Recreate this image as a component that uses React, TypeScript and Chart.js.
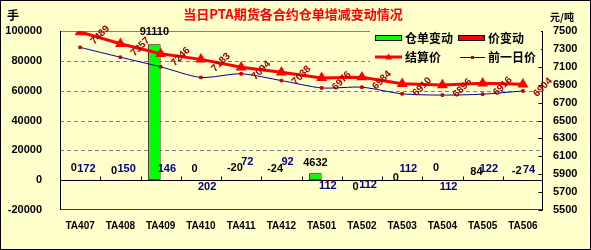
import React, { useEffect, useRef } from 'react';
import { Chart, registerables } from 'chart.js';

Chart.register(...registerables);

// ---- data ----
const categories = ['TA407', 'TA408', 'TA409', 'TA410', 'TA411', 'TA412', 'TA501', 'TA502', 'TA503', 'TA504', 'TA505', 'TA506'];
const stockChange = [0, 0, 91110, 0, -20, -24, 4632, 0, 0, 0, 84, -2];
const priceChange = [172, 150, 146, 202, 72, 92, 112, 112, 112, 112, 122, 74];
const settlePrice = [7489, 7357, 7246, 7183, 7094, 7038, 6976, 6984, 6910, 6896, 6916, 6904];
const prevPrice = [7317, 7207, 7100, 6981, 7022, 6946, 6864, 6872, 6798, 6784, 6794, 6830];
const leftTicks = [-20000, 0, 20000, 40000, 60000, 80000, 100000];
const rightMin = 5500;
const rightMax = 7500;
const rightStep = 200;

// ---- label layout (pixel offsets, not data) ----
const stockLabelDy = [-12, -9, -12, -11, -12, -11, -10, 7, -2, -12, -8, -9];
const priceLabelDy = [-11, -11, -11, 7, -18, -18, 6, 5, -11, 7, -11, -10];

const BG = '#FFFFCC';
const F = '"Liberation Sans", Arial, sans-serif';
const CJK = '"Noto Sans CJK SC", "Noto Sans", sans-serif';

const decorPlugin = {
  id: 'decor',
  beforeDraw(chart: any) {
    const { ctx, width, height } = chart;
    ctx.save();
    ctx.fillStyle = BG;
    ctx.fillRect(0, 0, width, height);
    ctx.restore();
  },
  beforeDatasetsDraw(chart: any) {
    const { ctx, chartArea: a, scales } = chart;
    const y = scales.y;
    const y1 = scales.y1;
    ctx.save();
    ctx.lineWidth = 1;
    leftTicks.forEach((v) => {
      if (v === 0 || v === -20000) return;
      const py = Math.round(y.getPixelForValue(v)) + 0.5;
      ctx.strokeStyle = '#808080';
      ctx.setLineDash(v === 100000 ? [] : [4, 3]);
      ctx.beginPath();
      ctx.moveTo(a.left, py);
      ctx.lineTo(a.right, py);
      ctx.stroke();
    });
    ctx.setLineDash([]);
    const by = Math.round(a.bottom) - 0.5;
    ctx.strokeStyle = '#404040';
    ctx.beginPath();
    ctx.moveTo(a.left, by);
    ctx.lineTo(a.right, by);
    ctx.stroke();
    ctx.strokeStyle = '#000000';
    const lx = Math.round(a.left) + 0.5;
    const rx = Math.round(a.right) - 0.5;
    ctx.beginPath();
    ctx.moveTo(lx, a.top);
    ctx.lineTo(lx, a.bottom);
    ctx.moveTo(rx, a.top);
    ctx.lineTo(rx, a.bottom);
    ctx.stroke();
    for (let v = rightMin; v <= rightMax; v += rightStep) {
      const py = Math.round(y1.getPixelForValue(v)) + 0.5;
      ctx.beginPath();
      ctx.moveTo(rx - 4, py);
      ctx.lineTo(rx, py);
      ctx.stroke();
    }
    const zy = Math.round(y.getPixelForValue(0)) + 0.5;
    ctx.beginPath();
    ctx.moveTo(a.left, zy);
    ctx.lineTo(a.right, zy);
    const n = categories.length;
    for (let i = 1; i < n; i++) {
      const px = Math.round(a.left + (i * (a.right - a.left)) / n) + 0.5;
      ctx.moveTo(px, zy);
      ctx.lineTo(px, zy - 4);
    }
    ctx.stroke();
    ctx.restore();
  },
  afterDatasetsDraw(chart: any) {
    const { ctx } = chart;
    ctx.save();
    ctx.textAlign = 'center';
    ctx.textBaseline = 'middle';
    const m0 = chart.getDatasetMeta(0);
    ctx.font = `bold 11px ${F}`;
    ctx.fillStyle = '#000000';
    m0.data.forEach((el: any, i: number) => {
      const v = stockChange[i];
      const top = v >= 0 ? el.y : el.base;
      ctx.fillText(String(v), el.x, top + stockLabelDy[i]);
    });
    const m1 = chart.getDatasetMeta(1);
    ctx.fillStyle = '#000080';
    m1.data.forEach((el: any, i: number) => {
      ctx.fillText(String(priceChange[i]), el.x, el.base + priceLabelDy[i]);
    });
    const m2 = chart.getDatasetMeta(2);
    ctx.font = `bold 10px ${F}`;
    ctx.fillStyle = '#A00000';
    m2.data.forEach((el: any, i: number) => {
      ctx.save();
      ctx.translate(el.x + 20, el.y + 3);
      ctx.rotate(-Math.PI / 4);
      ctx.fillText(String(settlePrice[i]), 0, 0);
      ctx.restore();
    });
    ctx.restore();
  },
  afterDraw(chart: any) {
    const { ctx, width, height } = chart;
    ctx.save();
    ctx.fillStyle = BG;
    ctx.fillRect(370, 29, 171, 37);
    ctx.textBaseline = 'middle';
    ctx.textAlign = 'left';
    ctx.font = `bold 12px ${CJK}`;
    ctx.fillStyle = '#00FF00';
    ctx.fillRect(375, 35, 27, 5);
    ctx.strokeStyle = '#000000';
    ctx.lineWidth = 1;
    ctx.strokeRect(375.5, 35.5, 26, 5);
    ctx.fillStyle = '#000000';
    ctx.fillText('仓单变动', 405, 38);
    ctx.fillStyle = '#FF0000';
    ctx.fillRect(458, 35, 27, 5);
    ctx.strokeRect(458.5, 35.5, 26, 5);
    ctx.fillStyle = '#000000';
    ctx.fillText('价变动', 488, 38);
    ctx.strokeStyle = '#FF0000';
    ctx.lineWidth = 3;
    ctx.beginPath();
    ctx.moveTo(375, 57);
    ctx.lineTo(402, 57);
    ctx.stroke();
    ctx.fillStyle = '#FF0000';
    ctx.beginPath();
    ctx.moveTo(388.5, 53.5);
    ctx.lineTo(392, 59.5);
    ctx.lineTo(385, 59.5);
    ctx.closePath();
    ctx.fill();
    ctx.fillStyle = '#000000';
    ctx.fillText('结算价', 405, 57);
    ctx.strokeStyle = '#000099';
    ctx.lineWidth = 1;
    ctx.beginPath();
    ctx.moveTo(460, 57.5);
    ctx.lineTo(485, 57.5);
    ctx.stroke();
    ctx.fillStyle = '#CC0000';
    ctx.fillRect(471, 56, 3, 3);
    ctx.fillStyle = '#000000';
    ctx.fillText('前一日价', 488, 57);
    ctx.textAlign = 'center';
    ctx.fillStyle = '#FF0000';
    ctx.font = `bold 13px ${CJK}`;
    ctx.fillText('当日PTA期货各合约仓单增减变动情况', 293, 14);
    ctx.fillStyle = '#000000';
    ctx.font = `bold 12px ${CJK}`;
    ctx.fillText('手', 13, 15);
    ctx.font = `bold 10px ${CJK}`;
    ctx.fillText('元/吨', 562, 17);
    ctx.strokeStyle = '#000000';
    ctx.lineWidth = 1;
    ctx.strokeRect(0.5, 0.5, width - 1, height - 1);
    ctx.restore();
  },
};

export default function App() {
  const ref = useRef<HTMLCanvasElement>(null);
  useEffect(() => {
    const tickFont = { family: F, size: 11, weight: 'bold' as const };
    const chart = new Chart(ref.current as HTMLCanvasElement, {
      type: 'bar',
      data: {
        labels: categories,
        datasets: [
          {
            type: 'bar',
            label: '仓单变动',
            data: stockChange,
            yAxisID: 'y',
            backgroundColor: '#00FF00',
            borderColor: '#000000',
            borderWidth: 1,
            borderSkipped: false,
            categoryPercentage: 0.62,
            barPercentage: 1,
            order: 2,
          },
          {
            type: 'bar',
            label: '价变动',
            data: priceChange,
            yAxisID: 'y',
            backgroundColor: '#FF0000',
            borderWidth: 0,
            categoryPercentage: 0.62,
            barPercentage: 1,
            order: 2,
          },
          {
            type: 'line',
            label: '结算价',
            data: settlePrice,
            yAxisID: 'y1',
            borderColor: '#FF0000',
            borderWidth: 3,
            pointStyle: 'triangle',
            pointRadius: 3.3,
            pointBackgroundColor: '#FF0000',
            pointBorderColor: '#FF0000',
            tension: 0,
            order: 0,
          },
          {
            type: 'line',
            label: '前一日价',
            data: prevPrice,
            yAxisID: 'y1',
            borderColor: '#000099',
            borderWidth: 1,
            pointStyle: 'rect',
            pointRadius: 1.8,
            pointBackgroundColor: '#CC0000',
            pointBorderColor: '#CC0000',
            tension: 0.25,
            order: 1,
          },
        ] as any,
      },
      options: {
        responsive: false,
        animation: false,
        devicePixelRatio: 1,
        layout: { padding: { top: 31, left: 0, right: 0, bottom: 0 } },
        plugins: {
          legend: { display: false },
          title: { display: false },
          tooltip: { enabled: false },
        },
        scales: {
          x: {
            grid: { display: false, drawTicks: false },
            border: { display: false },
            ticks: { font: { family: F, size: 10, weight: 'bold' }, color: '#000000', padding: 10, autoSkip: false, maxRotation: 0 },
            afterFit: (s: any) => {
              s.height = 40;
            },
          },
          y: {
            position: 'left',
            min: leftTicks[0],
            max: leftTicks[leftTicks.length - 1],
            grid: { display: false, drawTicks: false },
            border: { display: false },
            ticks: { stepSize: 20000, font: tickFont, color: '#000000', padding: 18, callback: (v: any) => String(v) },
            afterFit: (s: any) => {
              s.width = 60;
            },
          },
          y1: {
            position: 'right',
            min: rightMin,
            max: rightMax,
            grid: { display: false, drawTicks: false },
            border: { display: false },
            ticks: { stepSize: rightStep, font: tickFont, color: '#000000', padding: 10, callback: (v: any) => String(v) },
            afterFit: (s: any) => {
              s.width = 48;
            },
          },
        },
      } as any,
      plugins: [decorPlugin],
    });
    return () => chart.destroy();
  }, []);
  return (
    <div style={{ position: 'absolute', left: 0, top: 0, width: 591, height: 250 }}>
      <canvas ref={ref} width={591} height={250} style={{ display: 'block' }} />
    </div>
  );
}
